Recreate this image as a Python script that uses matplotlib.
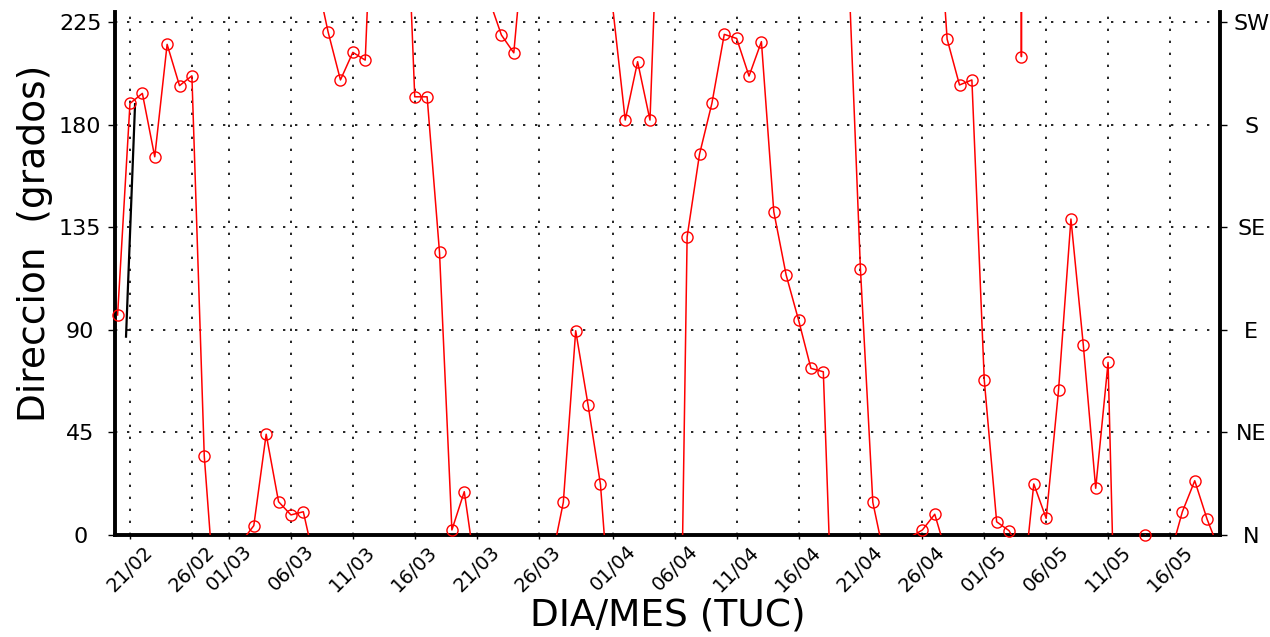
import numpy as np
import pandas as pd
import matplotlib

matplotlib.use("Agg")
import matplotlib.pyplot as plt  # noqa: E402

# dias contados desde el 20/02; los valores fuera de 0-225 salen del grafico
# y NaN corta la linea donde la direccion salta de arriba abajo
dia = [0, 1, 2, 3, 4, 5, 6, 7, 8, 10, 11, 12, 13, 14, 15, 16, np.nan,
       16, 17, 18, 19, 20, 21, 23, 24, 25, 26, 27, 28, 29, np.nan,
       30, 31, 32, 33, np.nan,
       35, 36, 37, 38, 39, 40, np.nan,
       40, 41, 42, 43, 44, np.nan,
       45, 46, 47, 48, 49, 50, 51, 52, 53, 54, 55, 56, 57, 58, np.nan,
       59, 60, 61, 62, 64, 65, 66, 66.55, np.nan,
       66.6, 67, 68, 69, 70, 71, 72, 72.5, np.nan,
       72.8, 73, 73.2, np.nan,
       73.5, 74, 75, 76, 77, 78, 79, 80, 80.5, 82, 83, 84, 85, 86, 87, 88, 89]
direccion = [96.5, 189.3, 193.7, 165.9, 215.2, 197.1, 201.4, 34.6, -38, -3, 4.1, 44.2, 14.6, 8.8, 10.2, -14, np.nan,
             246, 220.7, 199.6, 211.7, 208.3, 340, 330, 192.2, 192.2, 124, 2.2, 19, -19, np.nan,
             235, 219.3, 211.5, 271.5, np.nan,
             -12.5, 14.3, 89.6, 57, 22.2, -50, np.nan,
             231, 182, 207.6, 182, 330, np.nan,
             -230, 130.8, 167, 189.3, 219.6, 217.8, 201.3, 216.4, 141.8, 114, 94.3, 73.1, 71.6, -83, np.nan,
             254, 116.5, 14.3, -11.5, -1, 2.2, 9.1, -1, np.nan,
             250, 217.5, 197.4, 199.6, 68, 5.8, 1.9, -3, np.nan,
             900, 209.8, 900, np.nan,
             -4, 22.4, 7.3, 63.6, 138.6, 83.3, 20.5, 75.7, -32, -20, 0, -20, -9.4, 10.2, 23.8, 6.9, -7]

# trazo negro al inicio
negro_dia = [0.68, 1.41]
negro_dir = [87, 189]

fecha_inicio = "20/02/2007"
fechas = ["21/02", "26/02", "01/03", "06/03", "11/03", "16/03", "21/03", "26/03", "01/04",
          "06/04", "11/04", "16/04", "21/04", "26/04", "01/05", "06/05", "11/05", "16/05"]
grados = [0, 45, 90, 135, 180, 225]
rumbos = ["N", "NE", "E", "SE", "S", "SW"]

base = pd.to_datetime(fecha_inicio, format="%d/%m/%Y")
xticks = [(pd.to_datetime(f + "/2007", format="%d/%m/%Y") - base).days for f in fechas]

dia = np.array(dia, dtype=float)
direccion = np.array(direccion, dtype=float)
visible = (direccion >= 0) & (direccion <= 225)

fig = plt.figure(figsize=(12.7, 6.37), dpi=100)
ax = fig.add_axes([115 / 1270, 1 - 535 / 637, 1105 / 1270, 523 / 637])

ax.plot(dia, direccion, color="#ff0000", lw=1.1, zorder=3)
ax.plot(dia[visible], direccion[visible], ls="none", marker="o", ms=8, mfc="none",
        mec="#ff0000", mew=1.0, clip_on=False, zorder=4)
ax.plot(negro_dia, negro_dir, color="black", lw=1.6, zorder=3)

ax.set_xlim(-0.21, 89.04)
ax.set_ylim(0, 229.4)

ax.set_xticks(xticks)
ax.set_xticklabels(fechas, rotation=45, ha="center", fontsize=14)
ax.set_yticks(grados)
ax.set_yticklabels([str(g) for g in grados], fontsize=16)
for lab in ax.get_yticklabels():
    lab.set_horizontalalignment("center")
ax.tick_params(axis="y", direction="out", length=5, width=1, pad=20)
ax.tick_params(axis="x", direction="out", length=3, width=1, pad=2)

for g in grados[1:]:
    ax.axhline(g, color="black", lw=1.2, ls=(0, (1.4, 5.8)), zorder=1)
for t in xticks:
    ax.axvline(t, color="black", lw=1.2, ls=(0, (1.4, 5.8)), zorder=1)

ax.spines["top"].set_visible(False)
ax.spines["right"].set_visible(False)
ax.spines["left"].set_linewidth(2.8)
ax.spines["bottom"].set_linewidth(2.8)

ax2 = ax.twinx()
ax2.set_ylim(ax.get_ylim())
ax2.set_yticks(grados)
ax2.set_yticklabels(rumbos, fontsize=16)
for lab in ax2.get_yticklabels():
    lab.set_horizontalalignment("center")
ax2.tick_params(axis="y", direction="out", length=5, width=1, pad=17.5)
for s in ["top", "left", "bottom"]:
    ax2.spines[s].set_visible(False)
ax2.spines["right"].set_linewidth(2.8)

ax.set_xlabel("DIA/MES (TUC)", fontsize=27, va="top")
ax.xaxis.set_label_coords(0.5, -0.12)
ax.set_ylabel("Direccion  (grados)", fontsize=27, va="center")
ax.yaxis.set_label_coords(-0.072, 0.558)

fig.savefig("out.png", dpi=100)
plt.close(fig)
